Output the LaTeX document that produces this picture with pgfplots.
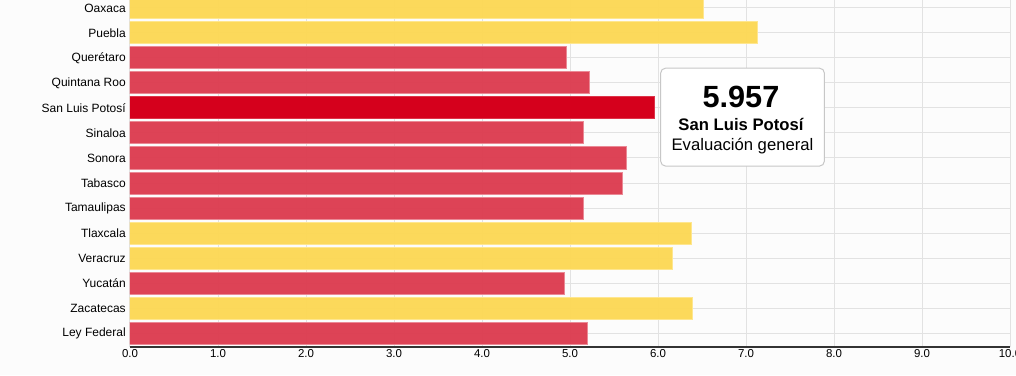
\documentclass[border=0pt]{standalone}
\usepackage{pgfplots}
\pgfplotsset{compat=1.18}
\usepackage{fontspec}
\setmainfont{Liberation Sans}
\definecolor{bgc}{HTML}{FCFCFC}
\definecolor{ybar}{HTML}{FDD853}
\definecolor{rbar}{HTML}{DC3A4E}
\definecolor{hbar}{HTML}{D5001C}
\definecolor{gridc}{HTML}{E2E2E2}
\definecolor{axc}{HTML}{333333}
\begin{document}
\begin{tikzpicture}[x=1pt,y=1pt]
\path[use as bounding box, fill=bgc] (-97.5,-21) rectangle (664.5,260.25);
\clip (-97.5,-21) rectangle (664.5,260.25);
\begin{axis}[
  at={(0,0)}, anchor=south west,
  scale only axis, width=660pt, height=260.25pt,
  xmin=0, xmax=10, ymin=-0.56, ymax=13.32,
  xtick={0,1,...,10},
  xticklabel={\pgfmathprintnumber[fixed,fixed zerofill,precision=1,assume math mode=true]{\tick}},
  ytick={0,1,...,13},
  yticklabels={Ley Federal,Zacatecas,Yucatán,Veracruz,Tlaxcala,Tamaulipas,Tabasco,Sonora,Sinaloa,San Luis Potosí,Quintana Roo,Querétaro,Puebla,Oaxaca},
  major tick length=0pt,
  axis line style={draw=none},
  xmajorgrids, ymajorgrids,
  grid style={draw=gridc, line width=0.75pt},
  xticklabel style={font=\fontsize{8.6}{9}\selectfont, inner sep=0pt, yshift=-2pt},
  yticklabel style={font=\fontsize{9}{10}\selectfont, inner sep=0pt, xshift=-3pt},
  xbar, bar width=16.5pt, bar shift=0pt,
  clip=true,
]
\addplot[fill=ybar, fill opacity=0.95, draw=ybar!65!white, line width=0.75pt] coordinates {
  (6.52,13) (7.13,12) (6.38,4) (6.17,3) (6.39,1)
};
\addplot[fill=rbar, fill opacity=0.95, draw=rbar!60!white, line width=0.75pt] coordinates {
  (4.955,11) (5.22,10) (5.15,8) (5.64,7) (5.60,6) (5.15,5) (4.94,2) (5.20,0)
};
\addplot[fill=hbar, draw=hbar!80!white, line width=0.75pt] coordinates {
  (5.957,9)
};
\draw[axc, line width=1.1pt] (rel axis cs:0,0) -- (rel axis cs:1,0);
\draw[draw=black!22, fill=white, rounded corners=3.5pt, line width=0.75pt]
  (axis cs:6.031,10.59) rectangle (axis cs:7.89,6.68);
\node[anchor=base, inner sep=0pt] at (axis cs:6.943,9.01)
  {\fontsize{23}{23}\selectfont\bfseries 5.957};
\node[anchor=base, inner sep=0pt] at (axis cs:6.943,8.08)
  {\fontsize{12.5}{13}\selectfont\bfseries San Luis Potosí};
\node[anchor=base, inner sep=0pt] at (axis cs:6.96,7.29)
  {\fontsize{12.5}{13}\selectfont Evaluación general};
\end{axis}
\end{tikzpicture}
\end{document}
